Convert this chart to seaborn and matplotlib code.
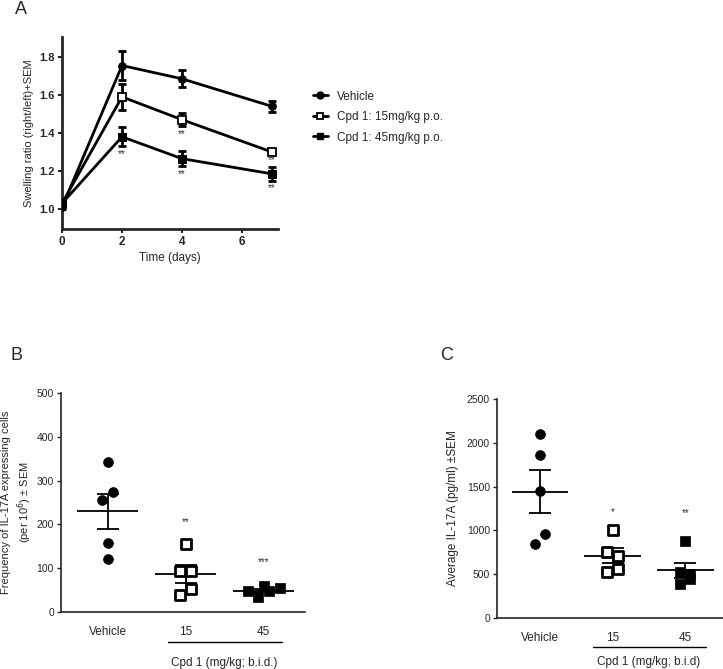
import matplotlib
matplotlib.use('Agg')
import matplotlib.pyplot as plt
import matplotlib.transforms as mtransforms
from matplotlib.lines import Line2D
import numpy as np
import pandas as pd
import seaborn as sns

# panel A: swelling ratio over time
days = [0, 2, 4, 7]
veh_mean = [1.01, 1.755, 1.685, 1.54]
veh_sem = [0.01, 0.075, 0.045, 0.03]
cpd15_mean = [1.03, 1.59, 1.47, 1.30]
cpd15_sem = [0.01, 0.07, 0.035, 0.012]
cpd45_mean = [1.03, 1.38, 1.265, 1.185]
cpd45_sem = [0.01, 0.05, 0.04, 0.035]
series_names = ['Vehicle', 'Cpd 1: 15mg/kg p.o.', 'Cpd 1: 45mg/kg p.o.']

# panel B: IL-17A expressing cells
groups = ['Vehicle', '15', '45']
b_veh = [342, 275, 255, 157, 120]
b_15 = [155, 93, 93, 52, 38]
b_45 = [47, 60, 35, 47, 55]
b_stars = ['', '**', '***']

# panel C: IL-17A concentration
c_veh = [2100, 1860, 1450, 960, 850]
c_15 = [1005, 750, 710, 555, 525]
c_45 = [880, 520, 500, 440, 390]
c_stars = ['', '*', '**']

# horizontal spread of the dots within each group
b_dx = [[0.0, 0.07, -0.07, 0.0, 0.0],
        [0.0, -0.07, 0.07, 0.07, -0.07],
        [-0.2, 0.0, -0.07, 0.07, 0.21]]
c_dx = [[0.0, 0.0, 0.0, 0.07, -0.07],
        [0.0, -0.07, 0.07, 0.07, -0.07],
        [0.0, -0.07, 0.07, 0.07, -0.07]]

sns.set_theme(style='ticks')
plt.rcParams['font.family'] = ['Liberation Sans', 'DejaVu Sans']

fig = plt.figure(figsize=(7.23, 6.69), dpi=100)

# ---------------- panel A ----------------
axA = fig.add_axes([0.0858, 0.6577, 0.2987, 0.287])
dfA = pd.DataFrame({
    'day': days * 3,
    'ratio': veh_mean + cpd15_mean + cpd45_mean,
    'group': [series_names[0]] * 4 + [series_names[1]] * 4 + [series_names[2]] * 4,
})
sns.lineplot(data=dfA, x='day', y='ratio', hue='group', style='group',
             palette=['black'] * 3, dashes=False, markers=['o', 's', 's'],
             markersize=5.5, linewidth=2, legend=False, ax=axA, zorder=3)
# open squares for 15 mg/kg
lines = axA.get_lines()
lines[1].set_markerfacecolor('white')
lines[1].set_markeredgecolor('black')
lines[1].set_markeredgewidth(1.3)
for ln in (lines[0], lines[2]):
    ln.set_markerfacecolor('black')
    ln.set_markeredgecolor('black')

for m, s in [(veh_mean, veh_sem), (cpd15_mean, cpd15_sem), (cpd45_mean, cpd45_sem)]:
    axA.errorbar(days, m, yerr=s, fmt='none', ecolor='black', elinewidth=2,
                 capsize=3, capthick=2, zorder=2)

star_pts = [(4, cpd15_mean[2] - cpd15_sem[2] - 0.04), (7, cpd15_mean[3] - cpd15_sem[3] - 0.03),
            (2, cpd45_mean[1] - cpd45_sem[1] - 0.04), (4, cpd45_mean[2] - cpd45_sem[2] - 0.04),
            (7, cpd45_mean[3] - cpd45_sem[3] - 0.04)]
for x, y in star_pts:
    axA.text(x, y, '**', ha='center', va='center', fontsize=7, color='#333333')

axA.set_xlim(0, 7.2)
axA.set_ylim(0.895, 1.905)
axA.set_xticks([0, 2, 4, 6])
axA.set_yticks([1.0, 1.2, 1.4, 1.6, 1.8])
axA.set_yticklabels(['1.0', '1.2', '1.4', '1.6', '1.8'])
axA.tick_params(axis='x', labelsize=8.5, width=1.5, length=3, pad=2)
axA.tick_params(axis='y', labelsize=8, width=1.5, length=3, pad=2)
for lab in axA.get_xticklabels() + axA.get_yticklabels():
    lab.set_fontweight('bold')
axA.set_xlabel('Time (days)', fontsize=8.5, labelpad=3)
axA.set_ylabel('Swelling ratio (right/left)+SEM', fontsize=8, labelpad=4)
for sp in ['left', 'bottom']:
    axA.spines[sp].set_linewidth(2)
sns.despine(ax=axA)

handles = [
    Line2D([], [], color='black', lw=2, marker='o', markersize=5),
    Line2D([], [], color='black', lw=2, marker='s', markersize=5,
           markerfacecolor='white', markeredgewidth=1.3),
    Line2D([], [], color='black', lw=2, marker='s', markersize=5),
]
fig.legend(handles, series_names, loc='upper left',
           bbox_to_anchor=(302 / 723, 1 - 80 / 669), frameon=False,
           fontsize=8.5, handlelength=1.3, labelspacing=0.72, handletextpad=0.8)


def dot_panel(ax, values, dx, stars, star_y, markers, faces):
    for i, (vals, offs) in enumerate(zip(values, dx)):
        d = pd.DataFrame({'x': np.array(offs) + i, 'y': vals})
        sns.scatterplot(data=d, x='x', y='y', marker=markers[i], s=50,
                        color=faces[i], edgecolor='black',
                        linewidth=2 if faces[i] == 'white' else 0.5,
                        ax=ax, zorder=3)
        mean = np.mean(vals)
        sem = np.std(vals, ddof=1) / np.sqrt(len(vals))
        ax.hlines(mean, i - 0.39, i + 0.39, color='black', lw=1.3, zorder=2)
        ax.errorbar(i, mean, yerr=sem, fmt='none', ecolor='black',
                    elinewidth=1.3, capsize=8, capthick=1.3, zorder=2)
        if stars[i]:
            ax.text(i, star_y[i], stars[i], ha='center', va='center',
                    fontsize=7, color='#333333')
    ax.set_xticks(range(len(groups)))
    ax.set_xticklabels(groups, fontsize=8.5)
    ax.tick_params(axis='x', length=0, pad=10)
    ax.tick_params(axis='y', labelsize=7.5, length=3, width=1, pad=2)
    ax.set_xlabel('')
    for sp in ['left', 'bottom']:
        ax.spines[sp].set_linewidth(1.2)
    sns.despine(ax=ax)


# ---------------- panel B ----------------
axB = fig.add_axes([0.0844, 0.0852, 0.3375, 0.3274])
dot_panel(axB, [b_veh, b_15, b_45], b_dx, b_stars, [0, 205, 115],
          ['o', 's', 's'], ['black', 'white', 'black'])
axB.set_xlim(-0.6, 2.53)
axB.set_ylim(0, 500)
axB.set_yticks([0, 100, 200, 300, 400, 500])
axB.set_ylabel('Frequency of IL-17A expressing cells\n(per 10$^{6}$) \u00b1 SEM',
               fontsize=8, labelpad=2, linespacing=1.3)
trB = mtransforms.blended_transform_factory(axB.transData, axB.transAxes)
axB.plot([0.77, 2.23], [-0.137, -0.137], color='black', lw=1, transform=trB, clip_on=False)
axB.text(1.5, -0.233, 'Cpd 1 (mg/kg; b.i.d.)', transform=trB, ha='center',
         va='center', fontsize=8.5)

# ---------------- panel C ----------------
axC = fig.add_axes([0.6874, 0.0762, 0.3126, 0.3274])
dot_panel(axC, [c_veh, c_15, c_45], c_dx, c_stars, [0, 1210, 1200],
          ['o', 's', 's'], ['black', 'white', 'black'])
axC.set_xlim(-0.59, 2.52)
axC.set_ylim(0, 2500)
axC.set_yticks([0, 500, 1000, 1500, 2000, 2500])
axC.set_ylabel('Average IL-17A (pg/ml) \u00b1SEM', fontsize=8.5, labelpad=6)
trC = mtransforms.blended_transform_factory(axC.transData, axC.transAxes)
axC.plot([0.73, 2.29], [-0.132, -0.132], color='black', lw=1, transform=trC, clip_on=False)
axC.text(1.5, -0.2, 'Cpd 1 (mg/kg; b.i.d)', transform=trC, ha='center',
         va='center', fontsize=8.5)

# panel letters
fig.text(15 / 723, 1 - 9 / 669, 'A', fontsize=13, ha='left', va='center')
fig.text(10 / 723, 1 - 355 / 669, 'B', fontsize=13, ha='left', va='center')
fig.text(440 / 723, 1 - 355 / 669, 'C', fontsize=13, ha='left', va='center')

fig.savefig('out.png', dpi=100)
